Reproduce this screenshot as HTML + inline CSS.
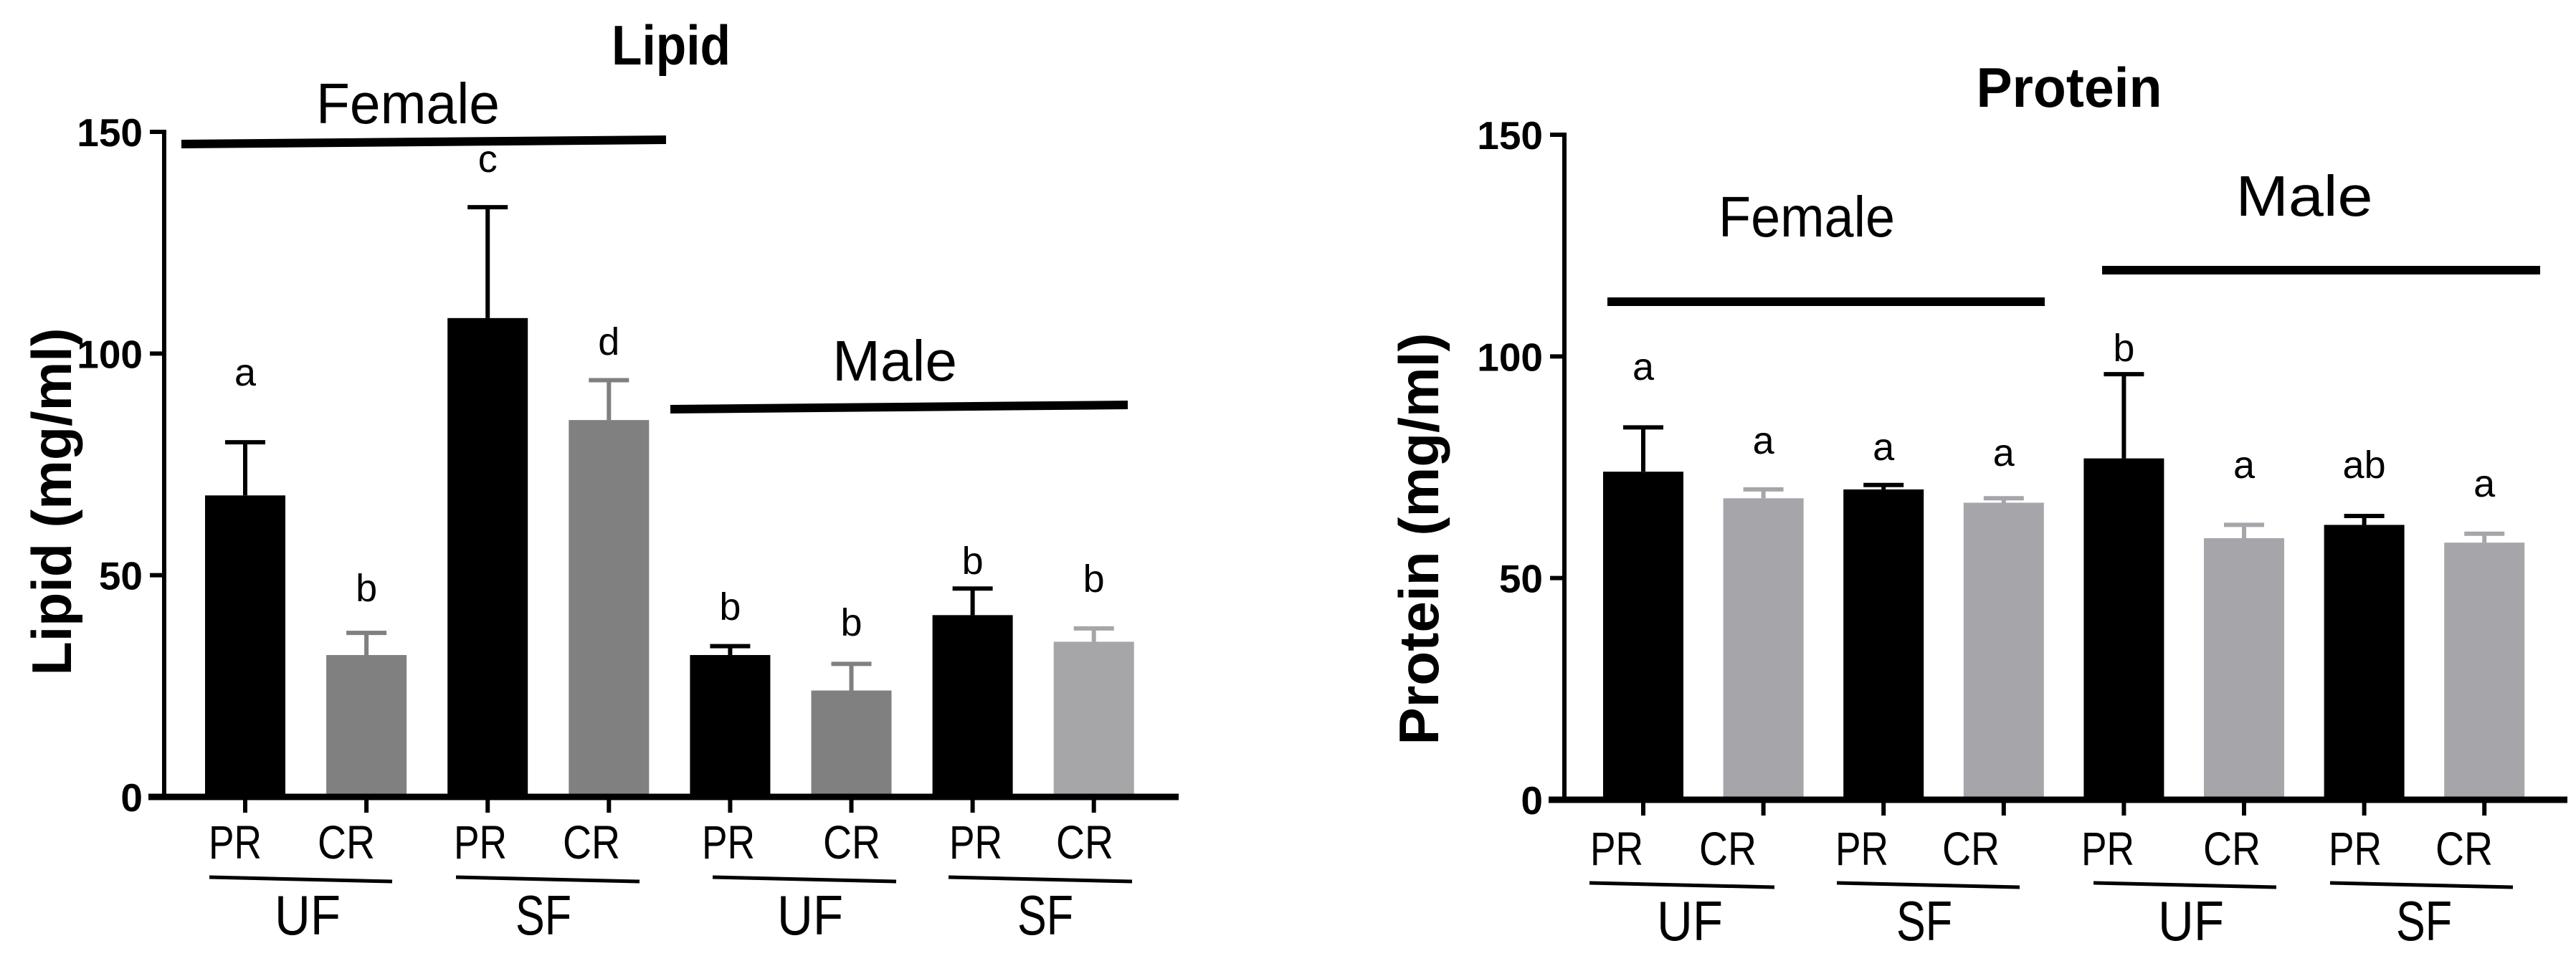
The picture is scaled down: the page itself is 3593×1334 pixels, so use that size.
<!DOCTYPE html>
<html><head><meta charset="utf-8"><style>
html,body{margin:0;padding:0;background:#fff;}
svg{display:block;}
text{font-family:"Liberation Sans",sans-serif;}
</style></head><body>
<svg id="c" width="3593" height="1334" viewBox="0 0 3593 1334" xmlns="http://www.w3.org/2000/svg"></svg>
<script>
const categories = ["PR","CR","PR","CR","PR","CR","PR","CR"];
const lipidValues = [68,32,108,85,32,24,41,35];
const lipidErrTop = [80,37,133,94,34,30,47,38];
const lipidLetters = ["a","b","c","d","b","b","b","b"];
const proteinValues = [74,68,70,67,77,59,62,58];
const proteinErrTop = [84,70,71,68,96,62,64,60];
const proteinLetters = ["a","a","a","a","b","a","ab","a"];
const yTicks = [0,50,100,150];
const groupLabels = ["UF","SF","UF","SF"];

const NS="http://www.w3.org/2000/svg";
const svg=document.getElementById('c');
function mk(tag,attrs,parent){const e=document.createElementNS(NS,tag);for(const k in attrs)e.setAttribute(k,attrs[k]);(parent||svg).appendChild(e);return e;}
function fit(e,w){e.setAttribute('textLength',w);e.setAttribute('lengthAdjust','spacingAndGlyphs');}

function chart(cfg){
  const g=mk('g',{});
  
  
  const y=v=>cfg.y0-(cfg.y0-cfg.y150)*v/150;
  const x=i=>cfg.x0+cfg.step*i;
  const ya=mk('line',{x1:cfg.ax,y1:cfg.y150-3,x2:cfg.ax,y2:cfg.y0+3,stroke:'#000','stroke-width':6},g);
  
  
  yTicks.forEach(t=>{
    mk('line',{x1:cfg.ax-20,y1:y(t),x2:cfg.ax,y2:y(t),stroke:'#000','stroke-width':6},g);
    const tx=mk('text',{x:cfg.ax-30,y:y(t)+20,'text-anchor':'end','font-size':55,'font-weight':'bold'},g);
    tx.textContent=t;
    
    
  });
  cfg.values.forEach((v,i)=>{
    const col=cfg.colors[i];
    const cx=x(i);
    const b=mk('rect',{x:cx-56,y:y(v),width:112,height:cfg.y0-y(v),fill:col},g);
    
    
    mk('line',{x1:cx,y1:y(v),x2:cx,y2:y(cfg.err[i]),stroke:col,'stroke-width':6},g);
    const cap=mk('line',{x1:cx-28,y1:y(cfg.err[i]),x2:cx+28,y2:y(cfg.err[i]),stroke:col,'stroke-width':6},g);
    
    
    mk('line',{x1:cx,y1:cfg.y0,x2:cx,y2:cfg.y0+22,stroke:'#000','stroke-width':6},g);
    const lt=mk('text',{x:cx,y:cfg.letterY[i]+18,'text-anchor':'middle','font-size':54},g);
    lt.textContent=cfg.letters[i];
    
    
    const cl=mk('text',{x:cfg.labX[i],y:cfg.labY+24,'text-anchor':'middle','font-size':66},g);
    cl.textContent=categories[i];
    fit(cl,i%2?80:74);
    
    
  });
  const xa=mk('line',{x1:cfg.ax-22,y1:cfg.y0,x2:cfg.axEnd,y2:cfg.y0,stroke:'#000','stroke-width':9},g);
  
  
  cfg.under.forEach((u,k)=>{
    mk('line',{x1:u[0],y1:cfg.ulY-3,x2:u[1],y2:cfg.ulY+3,stroke:'#000','stroke-width':5},g);
    const gt=mk('text',{x:cfg.grpX[k],y:cfg.grpY+28,'text-anchor':'middle','font-size':78},g);
    gt.textContent=groupLabels[k];
    fit(gt,k%2?78:92);
    
    
  });
  cfg.sex.forEach(s=>{
    mk('line',{x1:s.x1,y1:s.ly+s.sl,x2:s.x2,y2:s.ly-s.sl,stroke:'#000','stroke-width':12},g);
    const st=mk('text',{x:s.tx,y:s.ty+28,'text-anchor':'middle','font-size':80},g);
    st.textContent=s.t;
    fit(st,s.w);
    
    
  });
  const ti=mk('text',{x:cfg.titleX,y:cfg.titleY+28,'text-anchor':'middle','font-size':78,'font-weight':'bold'},g);
  ti.textContent=cfg.title;
  fit(ti,cfg.titleW);
  
  
  const yl=mk('text',{x:0,y:0,'text-anchor':'middle','font-size':78,'font-weight':'bold',transform:`translate(${cfg.ylX+28},${cfg.ylY}) rotate(-90)`},g);
  yl.textContent=cfg.title+' (mg/ml)';
  fit(yl,cfg.ylW);
  
  
}

chart({name:'lipid-chart',title:'Lipid',ax:229,axEnd:1644,y150:184,y0:1112,x0:342,step:169.1,
  values:lipidValues,err:lipidErrTop,letters:lipidLetters,
  colors:['#000','#808080','#000','#808080','#000','#808080','#000','#a6a6a8'],
  letterY:[520,821,222,477,847,869,783,808],
  labX:[328,483,670,825,1016,1188,1361,1513],labY:1174,ulY:1227,grpY:1276,
  grpX:[429,758,1130,1458],
  under:[[292,547],[636,892],[994,1250],[1323,1579]],
  sex:[{t:'Female',x1:253,x2:929,ly:198,sl:3,tx:569,ty:144,w:256},{t:'Male',x1:935,x2:1573,ly:568,sl:3,tx:1248,ty:503,w:174}],
  titleX:936,titleY:62,titleW:166,ylX:71,ylY:700,ylW:485});

chart({name:'protein-chart',title:'Protein',ax:2182,axEnd:3581,y150:188,y0:1116,x0:2292,step:167.6,
  values:proteinValues,err:proteinErrTop,letters:proteinLetters,
  colors:['#000','#a6a6aa','#000','#a6a6aa','#000','#a6a6aa','#000','#a6a6aa'],
  letterY:[512,615,624,632,486,649,649,675],
  labX:[2255,2410,2597,2749,2940,3113,3285,3437],labY:1183,ulY:1235,grpY:1284,
  grpX:[2357,2684,3056,3381],
  under:[[2217,2475],[2562,2817],[2920,3175],[3250,3505]],
  sex:[{t:'Female',x1:2242,x2:2852,ly:421,sl:0,tx:2520,ty:302,w:246},{t:'Male',x1:2932,x2:3543,ly:377,sl:0,tx:3214,ty:273,w:191}],
  titleX:2886,titleY:121,titleW:259,ylX:1978,ylY:752,ylW:575});
</script>
</body></html>
